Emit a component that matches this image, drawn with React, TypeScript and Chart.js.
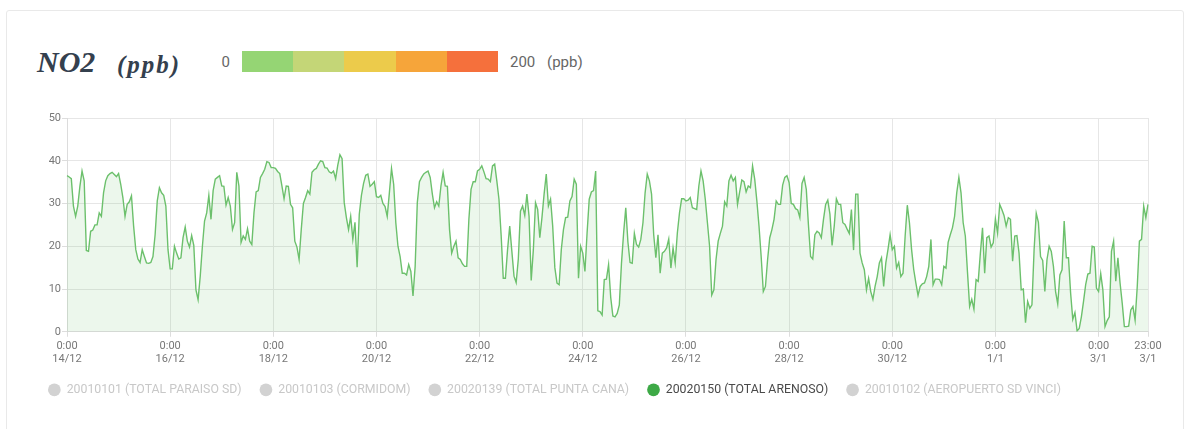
import React, { useEffect, useRef } from 'react';
import { Chart, registerables } from 'chart.js';

Chart.register(...registerables);

// ---------- data ----------
const dayLabels = ['14/12', '15/12', '16/12', '17/12', '18/12', '19/12', '20/12', '21/12', '22/12', '23/12', '24/12', '25/12', '26/12', '27/12', '28/12', '29/12', '30/12', '31/12', '1/1', '2/1', '3/1'];
const hourLabels = ['0:00', '1:00', '2:00', '3:00', '4:00', '5:00', '6:00', '7:00', '8:00', '9:00', '10:00', '11:00', '12:00', '13:00', '14:00', '15:00', '16:00', '17:00', '18:00', '19:00', '20:00', '21:00', '22:00', '23:00'];

const no2Dec14 = [36.5, 36.2, 35.8, 29.4, 27, 29.4, 34, 37.6, 35.3, 19, 18.8, 23.5, 23.8, 25, 25, 27.8, 27, 32.5, 35.3, 36.5, 37, 37.3, 36.8, 36.3];
const no2Dec15 = [37, 34.5, 31.4, 27, 29.8, 30.4, 31.8, 24.7, 19.2, 17, 16.2, 19.2, 17.6, 16.1, 16, 16.2, 17.6, 22.7, 30.6, 33.7, 32.5, 31.9, 29.4, 19.2];
const no2Dec16 = [14.7, 14.7, 20, 18.4, 17, 17.3, 22, 24.5, 21.2, 19.8, 22.5, 20.2, 9.8, 7.5, 13, 20, 25.9, 27.8, 31.9, 26.3, 33, 35.7, 36.1, 36.5];
const no2Dec17 = [34.1, 34, 29.6, 31.4, 29.4, 23.9, 25.5, 37.3, 34.1, 20.9, 22.4, 21.6, 24.1, 21.2, 20.4, 27.8, 32.7, 33, 36.1, 37, 38, 39.8, 39.6, 38.4];
const no2Dec18 = [38.4, 38.2, 37.5, 37, 34.1, 31.1, 34.1, 34, 29.8, 29, 21.2, 19.8, 16.9, 23.9, 30, 31.4, 33, 32.2, 37.3, 37.9, 38.2, 39.2, 40, 39.8];
const no2Dec19 = [38.4, 38.3, 37.4, 37.1, 37.6, 35.8, 39, 41.4, 40.5, 30.2, 26.7, 23.9, 27, 21.6, 25.6, 15.1, 27.5, 31.9, 34.7, 36.6, 36.9, 34, 34.5, 35.1];
const no2Dec20 = [31.6, 31.4, 31.9, 30, 29.3, 27, 32.5, 38.2, 34.5, 25.5, 20, 17.6, 13.7, 13.7, 13.3, 15.7, 14.1, 8.4, 15.3, 30.2, 35.1, 36.1, 36.9, 37.3];
const no2Dec21 = [37.6, 36.1, 32.2, 29, 30.4, 29.4, 34.1, 37.3, 34.1, 34, 23.9, 18.4, 20, 21.2, 17.3, 16.9, 15.9, 15.3, 15.3, 26.3, 33.3, 35.1, 35.1, 37.6];
const no2Dec22 = [38, 38.8, 37.4, 35.8, 35.7, 35.1, 38.8, 39.2, 35.3, 31, 22.7, 12.5, 12.5, 19.2, 24.7, 18.8, 13, 11.5, 17, 28.2, 29.4, 27.2, 32.2, 27];
const no2Dec23 = [12, 19.2, 30.2, 28.6, 22, 26.7, 32.2, 36.9, 29.4, 31, 24.7, 15, 11.4, 11, 19.2, 23.9, 26.7, 26.8, 30.6, 31.6, 35.7, 34.5, 12.5, 20];
const no2Dec24 = [18.4, 14.1, 23.1, 31, 32.7, 33, 37.6, 4.9, 4.7, 3.9, 12.2, 12.3, 15.7, 8, 3.7, 3.5, 4.3, 6.3, 16, 23.1, 29, 21, 16.2, 16];
const no2Dec25 = [23, 20.4, 19.8, 21.6, 25.5, 32.5, 36.9, 35.3, 32.2, 22.7, 17.3, 22.7, 13.7, 18.4, 18.8, 19.6, 21.7, 14.9, 19.6, 16.1, 23.1, 27.8, 31.1, 31.1];
const no2Dec26 = [30.6, 30.8, 31.4, 29, 28.8, 28.6, 34.1, 37.6, 35.3, 31, 25.5, 20, 8.6, 9.8, 16.9, 21.2, 23, 24.7, 30.4, 29.4, 35.3, 36.6, 35.3, 36.1];
const no2Dec27 = [29.8, 32.7, 35.5, 35.1, 32.7, 34.1, 33.7, 38.8, 35.7, 30.6, 24.7, 17.6, 9.4, 10.6, 16.9, 22, 23.9, 26.3, 30.6, 29.8, 29.8, 34.3, 36.1, 36.5];
const no2Dec28 = [34.9, 30, 29.8, 28.8, 28.5, 26.7, 34.7, 36.1, 33.3, 25, 17.6, 17, 22.7, 23.5, 23.1, 22, 26.3, 29.8, 30.8, 27.5, 20.2, 24.7, 31.1, 29.8];
const no2Dec29 = [29.8, 25.5, 25.1, 24, 23, 28.6, 19.1, 32.2, 32.2, 18.4, 16.1, 14.5, 9.8, 12.5, 9.4, 7.6, 10.6, 12.9, 16.1, 17.3, 10.6, 16.1, 19.2, 22.7];
const no2Dec30 = [19.2, 20, 14.9, 16.2, 12.9, 13.7, 22.4, 29.6, 25.5, 19.2, 14.5, 11.4, 8.5, 10.6, 11.2, 11.4, 12.9, 15.3, 21.6, 11, 12.3, 12.3, 12.2, 11];
const no2Dec31 = [15.3, 14.9, 20.9, 22.7, 24.3, 27, 32.5, 36.1, 32.5, 25.5, 22.4, 14, 5.9, 7.6, 5.3, 12.2, 11.8, 18.4, 24.3, 13.7, 22, 22.4, 19.8, 20.8];
const no2Jan01 = [26.4, 23.1, 29.8, 28.6, 27.2, 24.7, 26.7, 26.3, 16.5, 22.4, 22.5, 18.4, 9.8, 10, 2.1, 7.1, 5.5, 6.3, 19.2, 27.7, 25.6, 17.6, 16.7, 9.4];
const no2Jan02 = [16.9, 20, 18.8, 15.3, 9.4, 6.5, 13.3, 14.5, 25.9, 17.3, 17.3, 9, 2.9, 4.5, 0.2, 0.8, 3.5, 7.1, 11, 13.5, 13.7, 20, 19.8, 10.2];
const no2Jan03 = [9.4, 13.6, 9.8, 1.2, 2.6, 3.5, 18.8, 21.2, 11.8, 17.3, 11.4, 6.7, 1.2, 1.2, 1.3, 5.1, 5.9, 2.7, 10.6, 21.2, 21.6, 29.4, 26.7, 29.8];

const stationNames = ['20010101 (TOTAL PARAISO SD)', '20010103 (CORMIDOM)', '20020139 (TOTAL PUNTA CANA)', '20020150 (TOTAL ARENOSO)', '20010102 (AEROPUERTO SD VINCI)'];
const activeStation = 3;

const yTickMin = 0;
const yTickMax = 50;
const yTickStep = 10;
const xTickEveryHours = 48;

const scaleLabels = ['0', '200'];
const scaleUnit = '(ppb)';
const scaleColors = ['#95d574', '#c4d677', '#eccb4b', '#f6a53a', '#f5703c'];

// ---------- derived ----------
const dailySeries = [no2Dec14, no2Dec15, no2Dec16, no2Dec17, no2Dec18, no2Dec19, no2Dec20, no2Dec21, no2Dec22, no2Dec23, no2Dec24, no2Dec25, no2Dec26, no2Dec27, no2Dec28, no2Dec29, no2Dec30, no2Dec31, no2Jan01, no2Jan02, no2Jan03];
const no2Values: number[] = ([] as number[]).concat(...dailySeries);
const labels: string[][] = [];
dayLabels.forEach((d) => hourLabels.forEach((h) => labels.push([h, d])));

const FONT = 'Roboto, "Noto Sans", sans-serif';

export default function App() {
  const canvasRef = useRef<HTMLCanvasElement | null>(null);

  useEffect(() => {
    if (!canvasRef.current) return;
    const datasets = stationNames.map((name, i) => ({
      label: name,
      data: i === activeStation ? no2Values : [],
      borderColor: '#6cc06c',
      backgroundColor: 'rgba(108, 192, 108, 0.13)',
      borderWidth: 1.4,
      fill: true,
      pointRadius: 0,
      tension: 0,
    }));
    const chart = new Chart(canvasRef.current, {
      type: 'line',
      data: { labels, datasets },
      options: {
        animation: false,
        responsive: false,
        maintainAspectRatio: false,
        layout: { padding: { left: 0, right: 20, top: 12, bottom: 0 } },
        plugins: {
          tooltip: { enabled: false },
          legend: {
            position: 'bottom',
            align: 'start',
            onClick: () => {},
            labels: {
              usePointStyle: true,
              boxWidth: 16.7,
              boxHeight: 9,
              padding: 18.2,
              font: { family: FONT, size: 12.3 },
              generateLabels: (c: any) =>
                c.data.datasets.map((ds: any, i: number) => ({
                  text: ds.label,
                  fillStyle: i === activeStation ? '#3da946' : '#d2d2d2',
                  strokeStyle: i === activeStation ? '#3da946' : '#d2d2d2',
                  lineWidth: 0,
                  fontColor: i === activeStation ? '#4a4a4a' : '#c8c8c8',
                  pointStyle: 'circle',
                  hidden: false,
                  datasetIndex: i,
                })),
            },
          },
        },
        scales: {
          x: {
            type: 'category',
            grid: { color: '#e6e6e6', tickLength: 5, tickColor: '#dddddd' },
            border: { color: '#dcdcdc' },
            afterFit: (scale: any) => {
              scale.height -= 3.65;
            },
            ticks: {
              autoSkip: false,
              maxRotation: 0,
              minRotation: 0,
              padding: 3,
              color: '#777777',
              font: { family: FONT, size: 11, lineHeight: 1.2 },
              callback: (_v: any, index: number) =>
                index % xTickEveryHours === 0 || index === labels.length - 1 ? labels[index] : null,
            },
          },
          y: {
            min: yTickMin,
            max: yTickMax,
            grid: { color: '#e6e6e6', tickLength: 5, tickColor: '#dddddd' },
            border: { color: '#dcdcdc' },
            afterFit: (scale: any) => {
              scale.width = 37;
            },
            ticks: {
              stepSize: yTickStep,
              padding: 1,
              color: '#777777',
              font: { family: FONT, size: 11 },
            },
          },
        },
      },
    } as any);
    return () => chart.destroy();
  }, []);

  const segW = 256 / scaleColors.length;

  return (
    <div>
      <div
        style={{
          position: 'absolute',
          left: 6,
          top: 10,
          width: 1178,
          height: 440,
          border: '1px solid #e9e9e9',
          borderRadius: 3,
          boxSizing: 'border-box',
          background: '#fff',
        }}
      />
      <div
        style={{
          position: 'absolute',
          left: 37,
          top: 47,
          fontFamily: '"Liberation Serif", serif',
          fontWeight: 'bold',
          fontStyle: 'italic',
          fontSize: 30,
          lineHeight: '30px',
          color: '#34404e',
          whiteSpace: 'nowrap',
        }}
      >
        NO2
      </div>
      <div
        style={{
          position: 'absolute',
          left: 117,
          top: 52,
          fontFamily: '"Liberation Serif", serif',
          fontWeight: 'bold',
          fontStyle: 'italic',
          fontSize: 25,
          letterSpacing: 2,
          lineHeight: '25px',
          color: '#34404e',
          whiteSpace: 'nowrap',
        }}
      >
        {scaleUnit}
      </div>
      <div
        style={{
          position: 'absolute',
          left: 200,
          width: 30,
          top: 53,
          textAlign: 'right',
          fontFamily: FONT,
          fontSize: 15,
          lineHeight: '18px',
          color: '#666',
        }}
      >
        {scaleLabels[0]}
      </div>
      <div style={{ position: 'absolute', left: 242, top: 51, height: 21, display: 'flex' }}>
        {scaleColors.map((c) => (
          <div key={c} style={{ width: segW, height: 21, background: c }} />
        ))}
      </div>
      <div
        style={{
          position: 'absolute',
          left: 510,
          top: 53,
          fontFamily: FONT,
          fontSize: 15,
          lineHeight: '18px',
          color: '#666',
          whiteSpace: 'nowrap',
        }}
      >
        {scaleLabels[1]}
      </div>
      <div
        style={{
          position: 'absolute',
          left: 547,
          top: 53,
          fontFamily: FONT,
          fontSize: 15,
          lineHeight: '18px',
          color: '#666',
          whiteSpace: 'nowrap',
        }}
      >
        {scaleUnit}
      </div>
      <canvas
        ref={canvasRef}
        width={1138}
        height={300}
        style={{ position: 'absolute', left: 30, top: 106, width: 1138, height: 300 }}
      />
    </div>
  );
}
